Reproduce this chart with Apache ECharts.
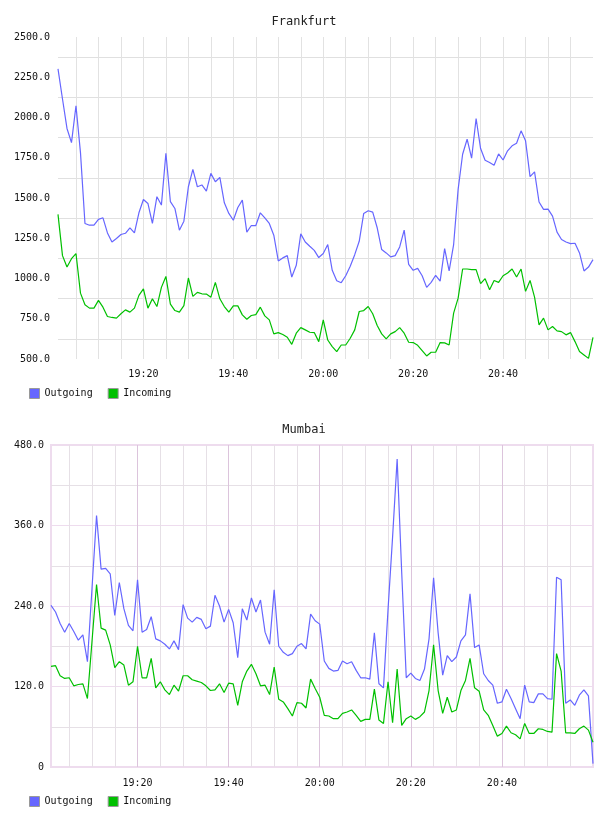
<!DOCTYPE html>
<html>
<head>
<meta charset="utf-8">
<script src="https://cdn.jsdelivr.net/npm/echarts@6/dist/echarts.min.js"></script>
<style>
  html, body { margin: 0; padding: 0; background: #fff; }
  #chart { width: 608px; height: 816px; }
</style>
</head>
<body>
<div id="chart"></div>
<script>
// 数据：每分钟一个点，19:01 ~ 21:00
const frankfurtOut = [2302, 2115, 1932, 1844, 2073, 1782, 1342, 1331, 1331, 1367, 1377, 1283, 1227, 1248, 1273, 1281, 1315, 1283, 1408, 1491,
  1466, 1342, 1508, 1456, 1778, 1477, 1435, 1300, 1356, 1570, 1678, 1570, 1581, 1543, 1653, 1601, 1628, 1470, 1404, 1362,
  1441, 1487, 1288, 1329, 1329, 1408, 1377, 1342, 1269, 1109, 1128, 1142, 1009, 1082, 1277, 1227, 1200, 1175, 1130, 1155,
  1211, 1051, 986, 974, 1017, 1076, 1148, 1231, 1404, 1421, 1412, 1315, 1180, 1159, 1134, 1142, 1196, 1300, 1088, 1051,
  1063, 1017, 945, 976, 1020, 984, 1186, 1047, 1211, 1554, 1772, 1865, 1747, 1994, 1807, 1734, 1720, 1703, 1774, 1736,
  1793, 1824, 1840, 1917, 1855, 1633, 1662, 1475, 1429, 1431, 1387, 1288, 1242, 1227, 1217, 1219, 1159, 1047, 1071, 1117]
const frankfurtIn = [1398, 1142, 1071, 1123, 1155, 909, 837, 816, 816, 864, 822, 764, 758, 754, 781, 805, 791, 816, 895, 936,
  816, 874, 826, 945, 1013, 841, 801, 791, 832, 1003, 889, 914, 905, 903, 884, 976, 874, 826, 791, 830,
  830, 774, 747, 770, 776, 822, 768, 743, 656, 664, 652, 635, 591, 660, 695, 681, 666, 664, 608, 743,
  618, 577, 546, 587, 587, 629, 681, 795, 801, 826, 781, 708, 656, 625, 656, 670, 695, 660, 604, 602,
  585, 552, 519, 542, 542, 602, 600, 587, 785, 878, 1059, 1059, 1055, 1055, 968, 999, 930, 988, 976, 1017,
  1034, 1059, 1009, 1059, 920, 988, 884, 712, 754, 681, 702, 675, 670, 650, 664, 608, 546, 525, 504, 635]
const mumbaiOut = [241, 231, 214, 201, 214, 202, 189, 197, 157, 266, 375, 295, 296, 288, 226, 275, 236, 211, 203, 279,
  201, 205, 224, 191, 188, 183, 176, 188, 175, 242, 222, 216, 223, 220, 206, 210, 256, 240, 216, 235,
  215, 163, 236, 219, 252, 231, 249, 201, 183, 264, 180, 171, 166, 169, 180, 184, 176, 228, 218, 213,
  158, 147, 143, 144, 158, 154, 157, 144, 133, 133, 131, 200, 124, 118, 235, 343, 459, 290, 133, 140,
  132, 129, 146, 191, 282, 200, 137, 166, 157, 164, 188, 197, 258, 178, 182, 139, 129, 122, 95, 97,
  116, 102, 87, 72, 122, 97, 96, 109, 109, 102, 101, 283, 279, 95, 100, 92, 107, 115, 106, 5]
const mumbaiIn = [150, 151, 136, 132, 133, 121, 123, 124, 102, 187, 272, 207, 204, 182, 148, 157, 152, 122, 127, 180,
  133, 133, 162, 118, 127, 115, 108, 122, 113, 136, 136, 130, 128, 126, 121, 114, 115, 124, 111, 125,
  124, 92, 127, 143, 153, 139, 121, 122, 108, 149, 101, 97, 87, 76, 96, 95, 88, 131, 117, 104,
  77, 76, 72, 72, 80, 82, 85, 77, 68, 71, 71, 116, 70, 65, 127, 66, 146, 62, 72, 76,
  71, 75, 82, 114, 182, 114, 80, 104, 82, 85, 114, 129, 162, 118, 113, 85, 77, 62, 46, 50,
  61, 51, 48, 42, 65, 50, 50, 57, 56, 53, 52, 169, 143, 51, 51, 50, 57, 61, 55, 37]

// x 轴：距 19:00 的分钟数
const gridMinutes = [5, 10, 15, 20, 25, 30, 35, 40, 45, 50, 55, 60, 65, 70, 75, 80, 85, 90, 95, 100, 105, 110, 115]
const labelMinutes = [20, 40, 60, 80, 100]
const timeLabels = ['19:20', '19:40', '20:00', '20:20', '20:40']

const font = 'DejaVu Sans Mono'
const toPairs = arr => arr.map((v, i) => [i + 1, v])
const timeFormatter = v => timeLabels[labelMinutes.indexOf(v)] || ''

const chart = echarts.init(document.getElementById('chart'))

const option = {
  animation: false,
  title: [
    { text: 'Frankfurt', left: 'center', top: 11, textStyle: { fontFamily: font, fontSize: 12, fontWeight: 'normal', color: '#222' } },
    { text: 'Mumbai', left: 'center', top: 419, textStyle: { fontFamily: font, fontSize: 12, fontWeight: 'normal', color: '#222' } }
  ],
  legend: [
    {
      top: 383, left: 24, itemWidth: 10, itemHeight: 10, itemGap: 15, icon: 'rect',
      itemStyle: { borderColor: '#999', borderWidth: 1 },
      textStyle: { fontFamily: font, fontSize: 10, color: '#111' },
      data: ['Outgoing', 'Incoming']
    },
    {
      top: 791, left: 24, itemWidth: 10, itemHeight: 10, itemGap: 15, icon: 'rect',
      itemStyle: { borderColor: '#999', borderWidth: 1 },
      textStyle: { fontFamily: font, fontSize: 10, color: '#111' },
      data: ['Outgoing', 'Incoming']
    }
  ],
  grid: [
    { left: 58, right: 15, top: 37, height: 322 },
    { left: 51, right: 15, top: 445, height: 322, show: true, borderColor: '#eedcee', borderWidth: 2 }
  ],
  xAxis: [
    {
      type: 'value', gridIndex: 0, min: 1, max: 120,
      axisLine: { show: false },
      axisTick: { show: false, customValues: gridMinutes },
      axisLabel: { customValues: labelMinutes, formatter: timeFormatter, margin: 10, fontFamily: font, fontSize: 10, color: '#111' },
      splitLine: { show: true, lineStyle: { color: '#e2e2e2', width: 1 } }
    },
    {
      type: 'value', gridIndex: 1, min: 1, max: 120,
      axisLine: { show: false },
      axisTick: { show: false, customValues: gridMinutes },
      axisLabel: { customValues: labelMinutes, formatter: timeFormatter, margin: 11, fontFamily: font, fontSize: 10, color: '#111' },
      splitLine: { show: true, lineStyle: { color: ['#e6e0e6', '#e6e0e6', '#e6e0e6', '#dcc4dc'], width: 1 } }
    }
  ],
  yAxis: [
    {
      type: 'value', gridIndex: 0, min: 500, max: 2500, interval: 250,
      axisLine: { show: false },
      axisTick: { show: false },
      axisLabel: { formatter: v => v.toFixed(1), margin: 8, fontFamily: font, fontSize: 10, color: '#111' },
      splitLine: { show: false },
      minorTick: { show: false, splitNumber: 2 },
      minorSplitLine: { show: true, lineStyle: { color: '#e0e0e0', width: 1 } }
    },
    {
      type: 'value', gridIndex: 1, min: 0, max: 480, interval: 60,
      axisLine: { show: false },
      axisTick: { show: false },
      axisLabel: {
        formatter: v => (v % 120 === 0 ? (v === 0 ? '0' : v.toFixed(1)) : ''),
        margin: 7, fontFamily: font, fontSize: 10, color: '#111'
      },
      splitLine: { show: true, lineStyle: { color: ['#eedcee', '#e6e0e6'], width: 1 } }
    }
  ],
  series: [
    { name: 'Outgoing', type: 'line', xAxisIndex: 0, yAxisIndex: 0, data: toPairs(frankfurtOut), showSymbol: false, color: '#6666ff', lineStyle: { width: 1.2 } },
    { name: 'Incoming', type: 'line', xAxisIndex: 0, yAxisIndex: 0, data: toPairs(frankfurtIn), showSymbol: false, color: '#00c000', lineStyle: { width: 1.2 } },
    { name: 'Outgoing', type: 'line', xAxisIndex: 1, yAxisIndex: 1, data: toPairs(mumbaiOut), showSymbol: false, color: '#6666ff', lineStyle: { width: 1.2 } },
    { name: 'Incoming', type: 'line', xAxisIndex: 1, yAxisIndex: 1, data: toPairs(mumbaiIn), showSymbol: false, color: '#00c000', lineStyle: { width: 1.2 } }
  ]
}

chart.setOption(option)
</script>
</body>
</html>
